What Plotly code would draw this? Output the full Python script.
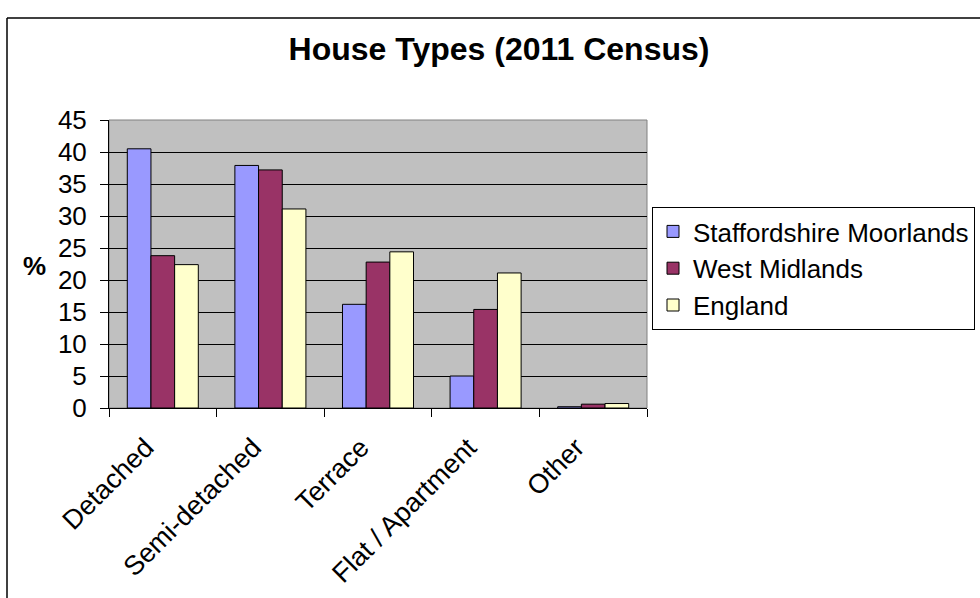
import plotly.graph_objects as go

categories = ["Detached", "Semi-detached", "Terrace", "Flat / Apartment", "Other"]
staffs_moorlands = [40.5, 37.9, 16.2, 5.0, 0.2]
west_midlands = [23.8, 37.2, 22.8, 15.4, 0.6]
england = [22.4, 31.1, 24.4, 21.1, 0.7]

series_names = ["Staffordshire Moorlands", "West Midlands", "England"]
series_values = [staffs_moorlands, west_midlands, england]
series_colors = ["#9999FF", "#993366", "#FFFFCC"]
y_ticks = [0, 5, 10, 15, 20, 25, 30, 35, 40, 45]

W, H = 980, 598
L, R, T, B = 109, 647, 120, 408  # plot area in pixels


def px_x(p):
    return (p - L) / (R - L)


def px_y(p):
    return (B - p) / (B - T)


FONT = "Arial, Liberation Sans, sans-serif"

fig = go.Figure()
for name, vals, col in zip(series_names, series_values, series_colors):
    fig.add_trace(go.Bar(
        x=categories, y=vals, name=name,
        marker=dict(color=col, line=dict(color="black", width=1)),
    ))

fig.update_layout(
    width=W, height=H,
    margin=dict(l=L, r=W - R, t=T, b=H - B, autoexpand=False),
    paper_bgcolor="white",
    plot_bgcolor="#C0C0C0",
    barmode="group",
    bargap=0.34,
    bargroupgap=0,
    font=dict(family=FONT, size=26, color="black"),
    title=dict(
        text="<b>House Types (2011 Census)</b>",
        x=499 / W, xanchor="center",
        y=1 - 49 / H, yanchor="middle",
        font=dict(family=FONT, size=32, color="black"),
    ),
    showlegend=True,
    legend=dict(
        x=px_x(652), y=px_y(207), xanchor="left", yanchor="top",
        bordercolor="black", borderwidth=1, bgcolor="white",
        font=dict(family=FONT, size=26, color="black"),
        traceorder="normal",
    ),
    xaxis=dict(
        type="category",
        showline=True, linecolor="black", linewidth=1,
        ticks="outside", ticklen=8, tickcolor="black",
        tickson="boundaries",
        tickangle=-45,
        ticklabelshift=-17,
        ticklabelstandoff=12,
        tickfont=dict(family=FONT, size=27, color="black"),
        showgrid=False,
    ),
    yaxis=dict(
        range=[0, 45], tickvals=y_ticks,
        showline=True, linecolor="black", linewidth=1,
        ticks="outside", ticklen=8, tickcolor="black",
        ticklabelstandoff=8,
        showgrid=True, gridcolor="black", gridwidth=1,
        zeroline=False,
        tickfont=dict(family=FONT, size=26, color="black"),
    ),
    shapes=[
        # outer chart border: top and left edges (the rest lies off the page)
        dict(type="line", xref="paper", yref="paper",
             x0=px_x(7), x1=px_x(985), y0=px_y(18), y1=px_y(18),
             line=dict(color="black", width=1.5), layer="below"),
        dict(type="line", xref="paper", yref="paper",
             x0=px_x(7), x1=px_x(7), y0=px_y(18), y1=px_y(605),
             line=dict(color="black", width=1.5), layer="below"),
        # plot area border
        dict(type="rect", xref="paper", yref="paper",
             x0=0, x1=1, y0=0, y1=1,
             line=dict(color="#808080", width=1), fillcolor="rgba(0,0,0,0)",
             layer="below"),
    ],
    annotations=[
        dict(text="<b>%</b>", xref="paper", yref="paper",
             x=px_x(34), y=px_y(266), xanchor="center", yanchor="middle",
             showarrow=False, font=dict(family=FONT, size=26, color="black")),
    ],
)

fig.write_html("out.html")
